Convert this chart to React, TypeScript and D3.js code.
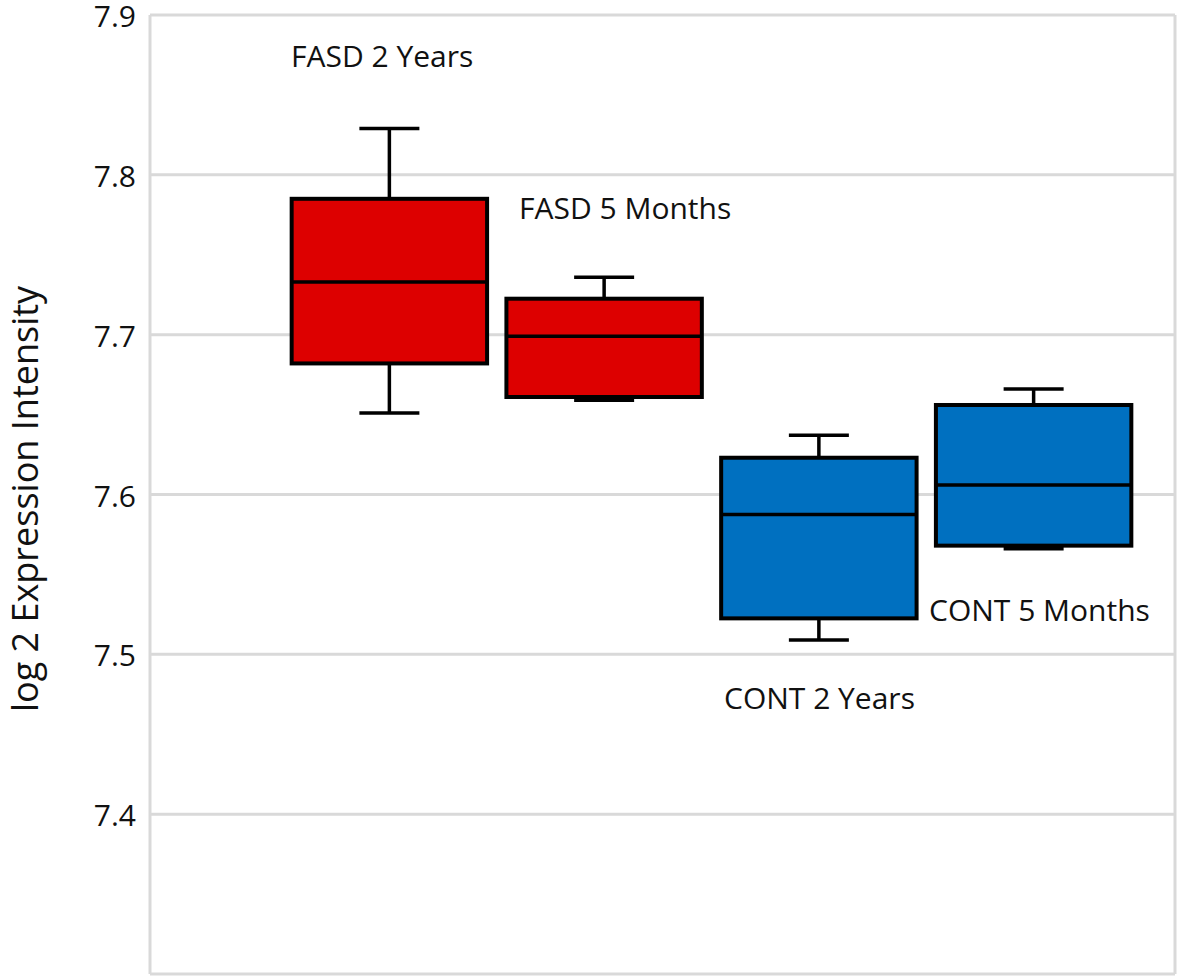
import React from "react";
import * as d3 from "d3";

const categories = ["FASD 2 Years", "FASD 5 Months", "CONT 2 Years", "CONT 5 Months"];
const whiskerLow = [7.651, 7.659, 7.509, 7.566];
const q1 = [7.682, 7.661, 7.5225, 7.568];
const median = [7.733, 7.699, 7.5875, 7.606];
const q3 = [7.785, 7.7225, 7.623, 7.656];
const whiskerHigh = [7.829, 7.736, 7.637, 7.666];
const fills = ["#DD0000", "#DD0000", "#0070C0", "#0070C0"];
const yTicks = [7.4, 7.5, 7.6, 7.7, 7.8, 7.9];
const yTitle = "log 2 Expression Intensity";
// label anchor values (data units)
const labelX = [291, 519, 724, 929];
const labelY = [7.8675, 7.7725, 7.466, 7.521];

const W = 1180;
const H = 980;
const left = 150;
const right = 1175;
const top = 15;
const bottom = 974;

export default function App() {
  const y = d3.scaleLinear().domain([7.3, 7.9]).range([bottom, top]);
  const x = d3
    .scaleBand<string>()
    .domain(categories)
    .range([282, 1141])
    .paddingInner(0.09)
    .paddingOuter(0.045);
  const bw = x.bandwidth();
  const capW = 60;
  const font = "'Open Sans', 'Noto Sans', sans-serif";

  return (
    <svg
      width={W}
      height={H}
      style={{ position: "absolute", left: 0, top: 0, background: "#fff" }}
    >
      {/* gridlines */}
      {yTicks.map((t) => (
        <line
          key={"g" + t}
          x1={left}
          x2={right}
          y1={y(t)}
          y2={y(t)}
          stroke="#d9d9d9"
          strokeWidth={3}
        />
      ))}
      {/* frame */}
      <line x1={left} x2={left} y1={top} y2={bottom} stroke="#d9d9d9" strokeWidth={3} />
      <line x1={left} x2={right} y1={bottom} y2={bottom} stroke="#d9d9d9" strokeWidth={3} />
      <line x1={right} x2={right} y1={top} y2={bottom} stroke="#d9d9d9" strokeWidth={3} />

      {/* tick labels */}
      {yTicks.map((t) => (
        <text
          key={"t" + t}
          x={136}
          y={y(t)}
          dy="0.4em"
          textAnchor="end"
          fontFamily={font}
          fontSize={30}
          fill="#111"
        >
          {t.toFixed(1)}
        </text>
      ))}

      {/* y title */}
      <text
        transform={`translate(38, 499) rotate(-90)`}
        textAnchor="middle"
        fontFamily={font}
        fontSize={36}
        fill="#111"
      >
        {yTitle}
      </text>

      {/* boxes */}
      {categories.map((c, i) => {
        const x0 = x(c)!;
        const cx = x0 + bw / 2;
        return (
          <g key={c}>
            <line x1={cx} x2={cx} y1={y(whiskerHigh[i])} y2={y(q3[i])} stroke="#000" strokeWidth={3.5} />
            <line x1={cx} x2={cx} y1={y(q1[i])} y2={y(whiskerLow[i])} stroke="#000" strokeWidth={3.5} />
            <line
              x1={cx - capW / 2}
              x2={cx + capW / 2}
              y1={y(whiskerHigh[i])}
              y2={y(whiskerHigh[i])}
              stroke="#000"
              strokeWidth={3.5}
            />
            <line
              x1={cx - capW / 2}
              x2={cx + capW / 2}
              y1={y(whiskerLow[i])}
              y2={y(whiskerLow[i])}
              stroke="#000"
              strokeWidth={3.5}
            />
            <rect
              x={x0}
              y={y(q3[i])}
              width={bw}
              height={y(q1[i]) - y(q3[i])}
              fill={fills[i]}
              stroke="#000"
              strokeWidth={4}
            />
            <line x1={x0} x2={x0 + bw} y1={y(median[i])} y2={y(median[i])} stroke="#000" strokeWidth={3.5} />
          </g>
        );
      })}

      {/* labels */}
      {categories.map((c, i) => (
        <text
          key={"l" + c}
          x={labelX[i]}
          y={y(labelY[i])}
          fontFamily={font}
          fontSize={30}
          fill="#111"
        >
          {c}
        </text>
      ))}
    </svg>
  );
}
